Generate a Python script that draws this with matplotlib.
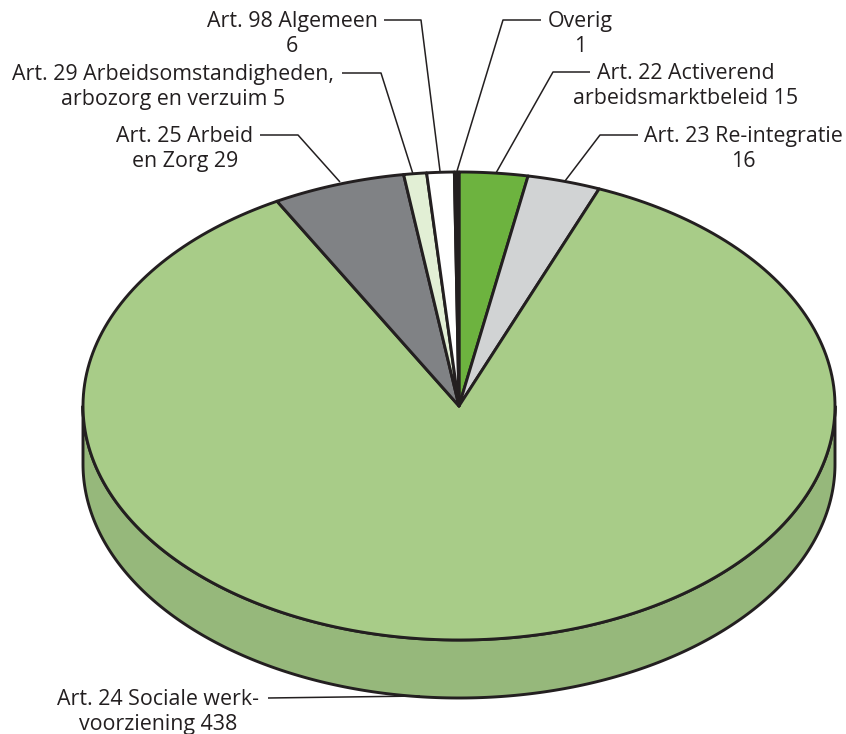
import numpy as np
import matplotlib
matplotlib.use("Agg")
import matplotlib.pyplot as plt
from matplotlib.patches import Polygon

# clockwise from the top of the pie
categories = ["Art. 22 Activerend\narbeidsmarktbeleid 15", "Art. 23 Re-integratie\n16",
              "Art. 24 Sociale werk-\nvoorziening 438", "Art. 25 Arbeid\nen Zorg 29",
              "Art. 29 Arbeidsomstandigheden,\narbozorg en verzuim 5", "Art. 98 Algemeen\n6", "Overig\n1"]
values = [15, 16, 438, 29, 5, 6, 1]
colors = ["#6DB33F", "#D1D3D4", "#A8CC88", "#808285", "#E2EFD5", "#FFFFFF", "#231F20"]
side_color = "#96B87B"
edge = "#231F20"

CX, CY, RX, RY, DEPTH = 459, 406, 376, 234, 58

plt.rcParams["font.family"] = ["Open Sans", "DejaVu Sans"]
fig = plt.figure(figsize=(8.46, 7.34), dpi=100)
ax = fig.add_axes([0, 0, 1, 1])
ax.set_xlim(0, 846)
ax.set_ylim(734, 0)
ax.axis("off")


def rim(a0, a1, n=240):
    t = np.radians(np.linspace(a0, a1, n))
    return np.column_stack([CX + RX * np.sin(t), CY - RY * np.cos(t)])


front = rim(90, 270)
wall = np.vstack([front, front[::-1] + [0, DEPTH]])
ax.add_patch(Polygon(wall, closed=True, fc=side_color, ec=edge, lw=2.1, joinstyle="round", zorder=1))

fractions = np.cumsum([0] + values) / sum(values) * 360
for a0, a1, c in zip(fractions[:-1], fractions[1:], colors):
    pts = np.vstack([[CX, CY], rim(a0, a1)])
    ax.add_patch(Polygon(pts, closed=True, fc=c, ec=edge, lw=2.1, joinstyle="round", zorder=2))

# text centre x, text centre y, leader path
label_specs = [
    (686, 86, [(590, 72), (553, 72), (496, 173)]),
    (743, 149, [(638, 135), (600, 135), (565, 181)]),
    (158, 712, [(268, 698), (420, 696)]),
    (185, 149, [(260, 135), (298, 135), (340, 182)]),
    (173, 87, [(342, 73), (381, 73), (413, 174)]),
    (292, 34, [(384, 20), (421, 20), (440, 171)]),
    (580, 34, [(541, 20), (503, 20), (457, 171)]),
]
for txt, (x, y, path) in zip(categories, label_specs):
    p = np.array(path)
    ax.plot(p[:, 0], p[:, 1], color=edge, lw=1.1, zorder=3, solid_capstyle="butt")
    ax.text(x, y, txt, ha="center", va="center", ma="center", fontsize=15.4,
            color=edge, linespacing=1.22, zorder=4)

fig.savefig("out.png", dpi=100, facecolor="white")
